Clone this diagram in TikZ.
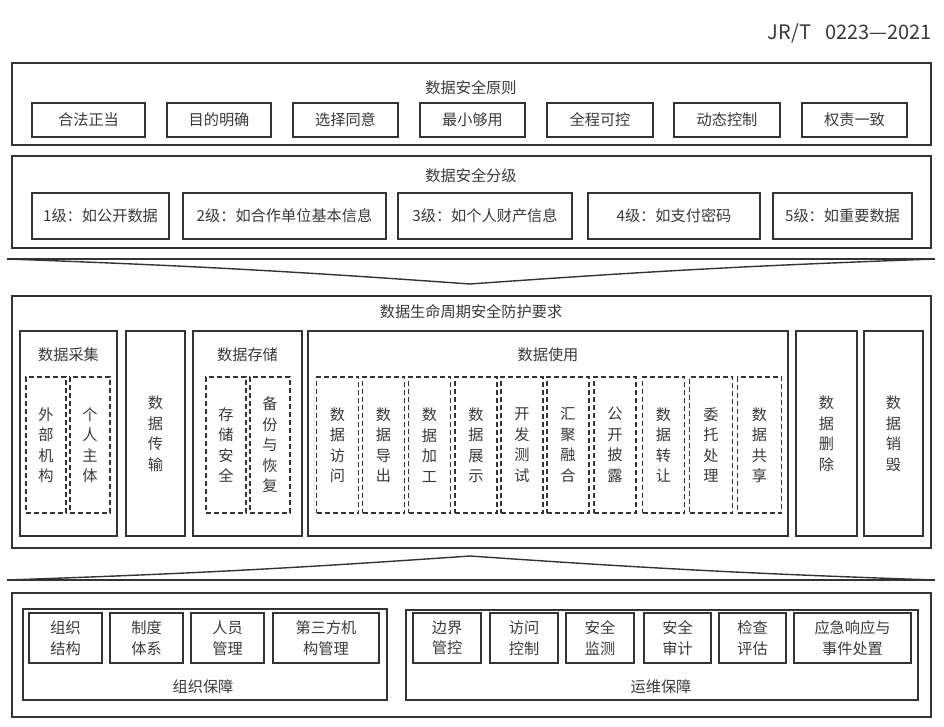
\documentclass[tikz,border=0pt]{standalone}
\usepackage{fontspec}
\newfontfamily\cjk{Noto Sans CJK SC}
\definecolor{ink}{HTML}{333333}
\definecolor{txtc}{HTML}{3A3A3A}
\tikzset{
  sz/.style 2 args={minimum width=#1pt, minimum height=#2pt},
  txt/.style={font=\cjk\fontsize{15.2}{20.5}\selectfont, text=txtc, inner sep=0, align=center},
  outerbox/.style={draw=ink, line width=1.8pt, inner sep=0},
  midbox/.style={draw=ink, line width=1.5pt, inner sep=0, txt},
  solidbox/.style={draw=ink, line width=1.3pt, inner sep=0, txt},
  dashbox/.style={draw=ink, line width=1.2pt, dash pattern=on 5pt off 3pt, inner sep=0, txt},
  funnel/.style={draw=ink, line width=1.4pt, line join=miter},
}
\begin{document}
\begin{tikzpicture}[x=1pt, y=-1pt]
\useasboundingbox (0,0) rectangle (944,727);
\fill[white] (0,0) rectangle (944,727);

% header
\node[font=\cjk\fontsize{20}{22}\selectfont, text=txtc, anchor=east, inner sep=0] (hdr) at (932,33) {JR/T\hspace{0.7em}0223—2021};

% ---------- principles ----------
\node[outerbox, sz={919}{82}] (prin) at (471.5,104) {};
\node[txt] (prinT) at (471,88) {数据安全原则};
\node[solidbox, sz={113}{34}] (p1) at (88.5,120) {合法正当};
\node[solidbox, sz={104}{34}] (p2) at (219,120) {目的明确};
\node[solidbox, sz={105}{34}] (p3) at (345.5,120) {选择同意};
\node[solidbox, sz={105}{34}] (p4) at (472.5,120) {最小够用};
\node[solidbox, sz={106}{34}] (p5) at (600,120) {全程可控};
\node[solidbox, sz={106}{34}] (p6) at (727,120) {动态控制};
\node[solidbox, sz={105}{34}] (p7) at (854.5,120) {权责一致};

% ---------- levels ----------
\node[outerbox, sz={919}{92}] (lvl) at (471.5,202) {};
\node[txt] (lvlT) at (471,176) {数据安全分级};
\node[solidbox, sz={137}{46}] (l1) at (100.5,216) {1级：如公开数据};
\node[solidbox, sz={203}{46}] (l2) at (284.5,216) {2级：如合作单位基本信息};
\node[solidbox, sz={174}{46}] (l3) at (485,216) {3级：如个人财产信息};
\node[solidbox, sz={172}{46}] (l4) at (674,216) {4级：如支付密码};
\node[solidbox, sz={139}{46}] (l5) at (842.5,216) {5级：如重要数据};

% funnel 1
\coordinate (f1l) at (7,259);
\coordinate (f1r) at (935,259);
\coordinate (f1m) at (470,284);
\draw[funnel] (f1l) -- (f1r);
\draw[funnel] (f1l) to[bend left=1] (f1m) to[bend left=1] (f1r);

% ---------- lifecycle ----------
\node[outerbox, sz={919}{252}] (life) at (471.5,422) {};
\node[txt] (lifeT) at (471,312) {数据生命周期安全防护要求};

\node[midbox, sz={97}{205}] (cj) at (68.5,433.5) {};
\node[txt] (cjT) at (68.5,355) {数据采集};
\node[dashbox, sz={40}{136}] (cj1) at (46,445) {外\\部\\机\\构};
\node[dashbox, sz={40}{136}] (cj2) at (90,445) {个\\人\\主\\体};

\node[midbox, sz={59}{205}] (cs) at (155.5,433.5) {数\\据\\传\\输};

\node[midbox, sz={109}{205}] (cc) at (247.5,433.5) {};
\node[txt] (ccT) at (247.5,355) {数据存储};
\node[dashbox, sz={40}{136}] (cc1) at (226,445) {存\\储\\安\\全};
\node[dashbox, sz={40}{136}] (cc2) at (270,445) {备\\份\\与\\恢\\复};

\node[midbox, sz={480}{205}] (sy) at (548,433.5) {};
\node[txt] (syT) at (548,355) {数据使用};
\node[dashbox, sz={42}{136}] (u1) at (337.5,445) {数\\据\\访\\问};
\node[dashbox, sz={42}{136}] (u2) at (383.5,445) {数\\据\\导\\出};
\node[dashbox, sz={42}{136}] (u3) at (429.5,445) {数\\据\\加\\工};
\node[dashbox, sz={42}{136}] (u4) at (476,445) {数\\据\\展\\示};
\node[dashbox, sz={42}{136}] (u5) at (522,445) {开\\发\\测\\试};
\node[dashbox, sz={42}{136}] (u6) at (568,445) {汇\\聚\\融\\合};
\node[dashbox, sz={42}{136}] (u7) at (615,445) {公\\开\\披\\露};
\node[dashbox, sz={42}{136}] (u8) at (663.5,445) {数\\据\\转\\让};
\node[dashbox, sz={43}{136}] (u9) at (711,445) {委\\托\\处\\理};
\node[dashbox, sz={44}{136}] (u10) at (759.5,445) {数\\据\\共\\享};

\node[midbox, sz={61}{205}] (sc) at (826.5,433.5) {数\\据\\删\\除};
\node[midbox, sz={59}{205}] (xh) at (893.5,433.5) {数\\据\\销\\毁};

% funnel 2
\coordinate (f2l) at (7,580);
\coordinate (f2r) at (935,580);
\coordinate (f2m) at (470,556);
\draw[funnel] (f2l) -- (f2r);
\draw[funnel] (f2l) to[bend right=1] (f2m) to[bend right=1] (f2r);

% ---------- guarantees ----------
\node[outerbox, sz={919}{124}] (gua) at (471.5,655) {};

\node[midbox, sz={364}{91}] (zz) at (205,654.5) {};
\node[txt] (zzT) at (203,687) {组织保障};
\node[solidbox, sz={73}{50}] (z1) at (65.5,638) {组织\\结构};
\node[solidbox, sz={73}{50}] (z2) at (146.5,638) {制度\\体系};
\node[solidbox, sz={73}{50}] (z3) at (227.5,638) {人员\\管理};
\node[solidbox, sz={106}{50}] (z4) at (326,638) {第三方机\\构管理};

\node[midbox, sz={512}{90}] (yw) at (662,655) {};
\node[txt] (ywT) at (661,687) {运维保障};
\node[solidbox, sz={68}{50}] (y1) at (447,638) {边界\\管控};
\node[solidbox, sz={68}{50}] (y2) at (524,638) {访问\\控制};
\node[solidbox, sz={68}{50}] (y3) at (600,638) {安全\\监测};
\node[solidbox, sz={67}{50}] (y4) at (677.5,638) {安全\\审计};
\node[solidbox, sz={67}{50}] (y5) at (752.5,638) {检查\\评估};
\node[solidbox, sz={117}{50}] (y6) at (852.5,638) {应急响应与\\事件处置};
\end{tikzpicture}
\end{document}
